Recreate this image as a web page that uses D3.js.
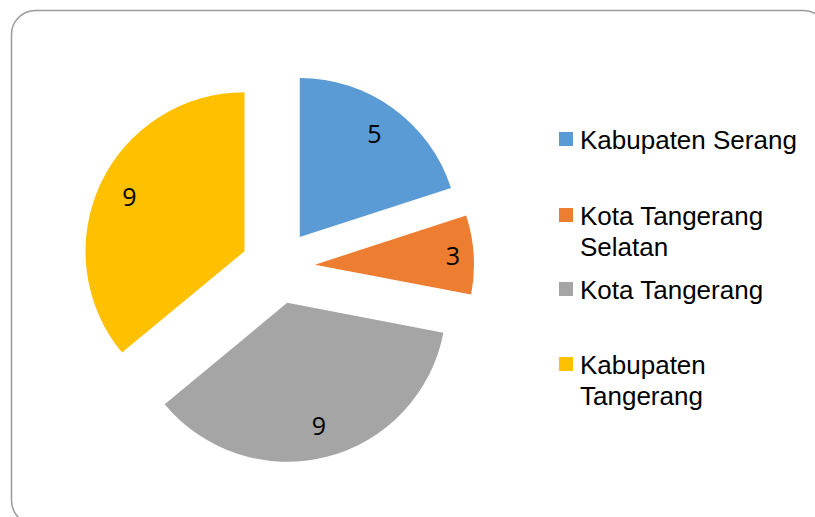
<!DOCTYPE html>
<html>
<head>
<meta charset="utf-8">
<script src="https://cdn.jsdelivr.net/npm/d3@7"></script>
<style>
  html, body { margin: 0; padding: 0; background: #fff; }
  svg { display: block; }
</style>
</head>
<body>
<div class="chart"></div>
<script>
const width = 815;
const height = 517;

// slice sizes as drawn, and the data labels shown on them
const regions = ['Kabupaten Serang', 'Kota Tangerang Selatan', 'Kota Tangerang', 'Kabupaten Tangerang'];
const values = [5, 2, 9, 9];
const labels = ['5', '3', '9', '9'];
const colors = ['#5B9BD5', '#ED7D31', '#A5A5A5', '#FFC000'];
// legend text split the way it wraps
const legendLines = [['Kabupaten Serang'], ['Kota Tangerang', 'Selatan'], ['Kota Tangerang'], ['Kabupaten', 'Tangerang']];

const svg = d3
    .select('div.chart')
    .append('svg')
    .attr('width', width)
    .attr('height', height);

svg.append('rect')
    .attr('x', 11.5)
    .attr('y', 10.5)
    .attr('width', 816)
    .attr('height', 514)
    .attr('rx', 24)
    .attr('ry', 24)
    .attr('fill', 'none')
    .attr('stroke', '#9a9a9a')
    .attr('stroke-width', 1.5);

const cx = 278;
const cy = 267;
const radius = 159;
const explode = 37;

const pie = d3.pie().sort(null).value(function(d) {
  return d;
});
const arcs = pie(values);

const arc = d3.arc().innerRadius(0).outerRadius(radius);

const g = svg.append('g').attr('transform', 'translate(' + cx + ',' + cy + ')');

const slice = g
    .selectAll('g.slice')
    .data(arcs)
    .enter()
    .append('g')
    .attr('class', 'slice')
    .attr('transform', function(d) {
      const mid = (d.startAngle + d.endAngle) / 2;
      return 'translate(' + explode * Math.sin(mid) + ',' + (-explode * Math.cos(mid)) + ')';
    });

slice.append('path')
    .attr('d', arc)
    .attr('fill', function(d, i) {
      return colors[i];
    });

slice.append('text')
    .attr('transform', function(d) {
      const mid = (d.startAngle + d.endAngle) / 2;
      // narrow slices get their label pushed out a bit
      const r = radius * (d.endAngle - d.startAngle < 0.6 ? 0.87 : 0.8);
      return 'translate(' + r * Math.sin(mid) + ',' + (-r * Math.cos(mid)) + ')';
    })
    .attr('text-anchor', 'middle')
    .attr('dy', '0.36em')
    .attr('font-family', '"Open Sans", sans-serif')
    .attr('font-size', '25px')
    .attr('fill', '#000')
    .text(function(d, i) {
      return labels[i];
    });

// legend
const item = svg
    .selectAll('g.legend')
    .data(regions)
    .enter()
    .append('g')
    .attr('class', 'legend')
    .attr('transform', function(d, i) {
      const base = [149, 225, 299, 374][i];
      return 'translate(559,' + base + ')';
    });

item.append('rect')
    .attr('x', 0)
    .attr('y', -17)
    .attr('width', 14)
    .attr('height', 14)
    .attr('fill', function(d, i) {
      return colors[i];
    });

item.append('text')
    .attr('font-family', '"Liberation Sans", Arimo, Arial, sans-serif')
    .attr('font-size', '26px')
    .attr('fill', '#000')
    .selectAll('tspan')
    .data(function(d, i) {
      return legendLines[i];
    })
    .enter()
    .append('tspan')
    .attr('x', 21)
    .attr('y', function(d, j) {
      return j * 30.5;
    })
    .text(function(d) {
      return d;
    });
</script>
</body>
</html>
